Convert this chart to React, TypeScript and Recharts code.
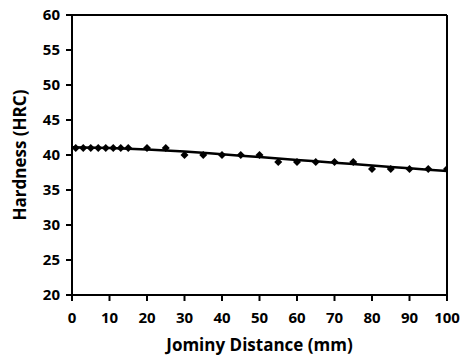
import React from "react"
import {
  ComposedChart,
  Scatter,
  Line,
  XAxis,
  YAxis,
  ReferenceLine,
} from "recharts"

// measured hardness along the Jominy bar
const distances = [1, 3, 5, 7, 9, 11, 13, 15, 20, 25, 30, 35, 40, 45, 50, 55, 60, 65, 70, 75, 80, 85, 90, 95, 100]
const hardness = [41, 41, 41, 41, 41, 41, 41, 41, 41, 41, 40, 40, 40, 40, 40, 39, 39, 39, 39, 39, 38, 38, 38, 38, 38]

// trend line
const trendX = [0, 10, 20, 30, 40, 50, 60, 70, 80, 90, 100]
const trendY = [41.1, 41.0, 40.8, 40.5, 40.1, 39.7, 39.3, 38.9, 38.5, 38.1, 37.7]

const xTicks = [0, 10, 20, 30, 40, 50, 60, 70, 80, 90, 100]
const yTicks = [20, 25, 30, 35, 40, 45, 50, 55, 60]

const points = distances.map((x, i) => ({ x, y: hardness[i] }))
const trend = trendX.map((x, i) => ({ x, t: trendY[i] }))

const font = "'Open Sans', sans-serif"
const tickStyle = { fontSize: 15, fontWeight: 700, fill: "#000", fontFamily: font }
const titleStyle = { fontSize: 17, fontWeight: 700, fill: "#000", fontFamily: font }

const Diamond = (props: any) => {
  const { cx, cy } = props
  if (cx == null || cy == null) return null
  const r = 4
  return (
    <polygon
      points={`${cx},${cy - r} ${cx + r},${cy} ${cx},${cy + r} ${cx - r},${cy}`}
      fill="#000"
    />
  )
}

export default function App() {
  return (
    <div style={{ position: "absolute", left: 0, top: 0, background: "#fff" }}>
      <ComposedChart
        width={463}
        height={358}
        margin={{ top: 15, right: 16, bottom: 4, left: 22 }}
      >
        <XAxis
          type="number"
          dataKey="x"
          domain={[0, 100]}
          ticks={xTicks}
          allowDataOverflow
          stroke="#000"
          strokeWidth={2}
          tickSize={6}
          tickMargin={11}
          tick={tickStyle}
          height={59}
          label={{
            value: "Jominy Distance (mm)",
            position: "insideBottom",
            offset: 3,
            style: titleStyle,
          }}
        />
        <YAxis
          type="number"
          domain={[20, 60]}
          ticks={yTicks}
          allowDataOverflow
          stroke="#000"
          strokeWidth={2}
          tickSize={6}
          tickMargin={6}
          tick={tickStyle}
          width={50}
          label={{
            value: "Hardness (HRC)",
            angle: -90,
            position: "insideLeft",
            offset: -2,
            style: { ...titleStyle, textAnchor: "middle" },
          }}
        />
        <ReferenceLine y={60} stroke="#000" strokeWidth={2} />
        <ReferenceLine x={100} stroke="#000" strokeWidth={2} />
        <Line
          data={trend}
          dataKey="t"
          type="monotone"
          stroke="#000"
          strokeWidth={2.5}
          dot={false}
          isAnimationActive={false}
        />
        <Scatter
          data={points}
          dataKey="y"
          shape={<Diamond />}
          fill="#000"
          legendType="none"
          isAnimationActive={false}
        />
      </ComposedChart>
    </div>
  )
}
